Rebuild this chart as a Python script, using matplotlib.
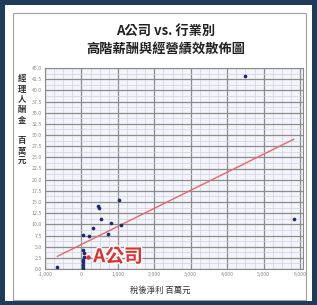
import numpy as np
import matplotlib
matplotlib.use("Agg")
import matplotlib.pyplot as plt
from matplotlib.patches import Rectangle
from matplotlib.ticker import MultipleLocator, FuncFormatter
import matplotlib.patheffects as pe

plt.rcParams['font.family'] = ['Noto Sans CJK TC', 'DejaVu Sans']

# 行業別 各公司 (稅後淨利, 經理人酬金) 百萬元
peer_x = [-660, 1044, 448, 476, 540, 815, 1090, 311, 723, 37, 220,
          37, 64, 82, 37, 37, 40, 30, 4478, 5824]
peer_y = [0.4, 15.4, 14.2, 13.6, 11.2, 10.4, 9.8, 9.1, 7.8, 7.6, 7.5,
          4.25, 3.5, 2.75, 2.0, 0.9, 1.6, 0.3, 43.2, 11.3]
# A公司
a_x = [174]
a_y = [2.75]

title = "A公司 vs. 行業別\n高階薪酬與經營績效散佈圖"
xlabel = "稅後淨利 百萬元"
ylabel = "經理人酬金 百萬元"

W, H = 317, 305
fig = plt.figure(figsize=(W / 100, H / 100), dpi=100)
fig.patch.set_facecolor('#203a5c')

# 白色底板與內框
fig.patches.append(Rectangle((5 / W, 4 / H), 307 / W, 296 / H, transform=fig.transFigure,
                             facecolor='white', edgecolor='none', zorder=-3))
fig.patches.append(Rectangle((13 / W, 5 / H), 293 / W, 287 / H, transform=fig.transFigure,
                             facecolor='none', edgecolor='#a0a0a0', lw=0.8, zorder=-2))

ax = fig.add_axes([45 / W, (H - 269) / H, (303 - 45) / W, (269 - 68) / H])
ax.set_facecolor('#f4f4fb')

all_x = np.array(peer_x + a_x, dtype=float)
all_y = np.array(peer_y + a_y, dtype=float)
k, b = np.polyfit(all_x, all_y, 1)
tx = np.array([all_x.min(), all_x.max()])
ax.plot(tx, k * tx + b, color='#e06a6a', lw=1.0, zorder=3)

ax.scatter(peer_x, peer_y, s=7, color='#1c2a6e', zorder=4, linewidths=0)
ax.scatter(a_x, a_y, s=10, color='#e03030', zorder=5, linewidths=0)
ax.text(a_x[0] + 150, a_y[0], "A公司", color='#e03030', fontsize=13.5, fontweight='bold',
        va='center', ha='left', zorder=6,
        path_effects=[pe.withStroke(linewidth=2, foreground='white')])

ax.set_xlim(-1000, 6080)
ax.set_ylim(0, 45)
ax.xaxis.set_major_locator(MultipleLocator(1000))
ax.xaxis.set_minor_locator(MultipleLocator(250))
ax.yaxis.set_major_locator(MultipleLocator(2.5))
ax.yaxis.set_minor_locator(MultipleLocator(1.25))
ax.xaxis.set_major_formatter(FuncFormatter(lambda v, p: f"{v:,.0f}"))
ax.yaxis.set_major_formatter(FuncFormatter(lambda v, p: f"{v:.1f}"))
ax.grid(which='major', color='#8c8c8c', lw=0.9)
ax.grid(which='minor', color='#d0d0e2', lw=0.5)
ax.set_axisbelow(True)
ax.tick_params(which='both', length=0, labelsize=3.8, labelcolor='#8a8a8a', pad=2)
for s in ax.spines.values():
    s.set_color('#8a8a8a')
    s.set_linewidth(0.8)

fig.text(166 / W, 1 - 40 / H, title, ha='center', va='center', fontsize=9.5,
         fontweight='bold', color='#222222', linespacing=1.35)
fig.text(160 / W, 1 - 290 / H, xlabel, ha='center', va='center', fontsize=6, color='#333333')
fig.text(22 / W, 1 - 120 / H, "\n".join(ylabel.replace(" ", "　")), ha='center', va='center',
         fontsize=6, fontweight='bold', color='#333333', linespacing=1.2)

fig.savefig("out.png", dpi=100, facecolor=fig.get_facecolor())
